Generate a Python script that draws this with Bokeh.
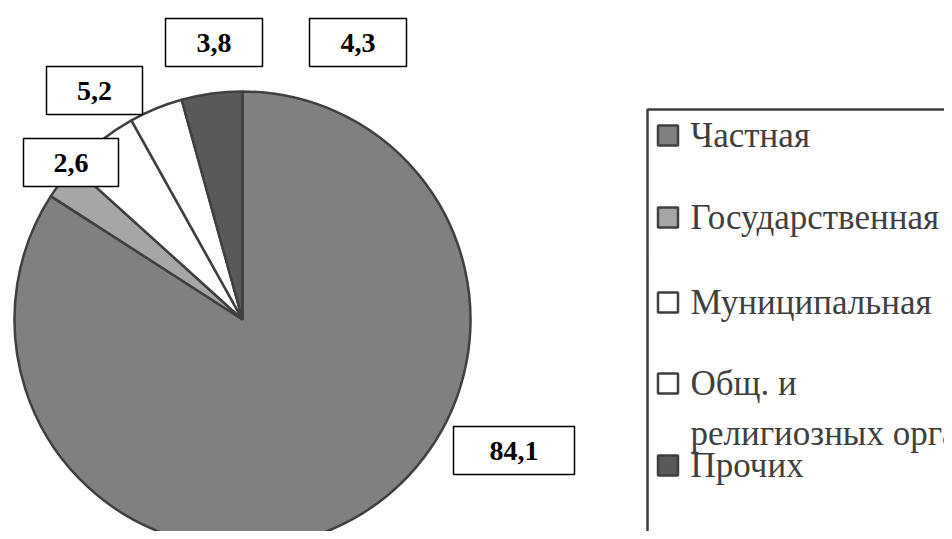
import math
from bokeh.plotting import figure
from bokeh.models import Range1d, ColumnDataSource
from bokeh.core.properties import value
from bokeh.embed import file_html
from bokeh.resources import INLINE

# ---- data ----
categories = ["Частная", "Государственная", "Муниципальная",
              "Общ. и религиозных организаций", "Прочих"]
shares = [84.1, 2.6, 5.2, 3.8, 4.3]
legend_lines = [["Частная"], ["Государственная"], ["Муниципальная"],
                ["Общ. и", "религиозных организаций"], ["Прочих"]]
slice_colors = ["#808080", "#a6a6a6", "#ffffff", "#ffffff", "#595959"]

# ---- layout (screen pixel positions, y downward) ----
W, H = 944, 531
def sx(x):
    return x
def sy(y):
    return H - y

pie_cx, pie_cy, pie_r = 242, 319, 228
# manually placed data-label boxes: (center x, center y, box width)
label_boxes = [(513.5, 450, 121), (70.5, 162, 95), (94, 90, 96),
               (213.5, 42, 97), (357.5, 42, 97)]
box_h = 48
legend_left, legend_top = 647, 109
legend_rows = [135, 217, 302, 383, 465]
legend_line_gap = 50
outline = "#404040"

p = figure(width=W, height=H, output_backend="svg", toolbar_location=None,
           x_range=Range1d(0, W), y_range=Range1d(0, H),
           min_border=0, border_fill_color="white", background_fill_color="white")
p.axis.visible = False
p.grid.visible = False
p.outline_line_color = None

# ---- pie (clockwise from 12 o'clock) ----
total = sum(shares)
starts, ends = [], []
cum = 0.0
for s in shares:
    starts.append(math.pi / 2 - 2 * math.pi * cum / total)
    cum += s
    ends.append(math.pi / 2 - 2 * math.pi * cum / total)

pie_src = ColumnDataSource(dict(start=starts, end=ends, color=slice_colors, cat=categories))
p.wedge(x=sx(pie_cx), y=sy(pie_cy), radius=pie_r, start_angle="start", end_angle="end",
        direction="clock", fill_color="color", line_color=outline, line_width=2.5,
        source=pie_src)

# ---- data labels ----
labels = [f"{v:.1f}".replace(".", ",") for v in shares]
lab_src = ColumnDataSource(dict(
    x=[sx(b[0]) for b in label_boxes],
    y=[sy(b[1]) for b in label_boxes],
    w=[b[2] for b in label_boxes],
    txt=labels))
p.rect(x="x", y="y", width="w", height=box_h, fill_color="white",
       line_color="black", line_width=1.5, source=lab_src)
p.text(x="x", y="y", text="txt", text_align="center", text_baseline="middle",
       text_font=value("Liberation Serif"), text_font_style="bold",
       text_font_size="28px", text_color="black", source=lab_src)

# ---- legend ----
p.quad(left=sx(legend_left), right=sx(1100), top=sy(legend_top), bottom=sy(700),
       fill_color=None, line_color=outline, line_width=2.5)
p.rect(x=[sx(667.5)] * len(categories), y=[sy(r) for r in legend_rows],
       width=20, height=20, fill_color=slice_colors, line_color=outline, line_width=2.5)
tx, ty, tt = [], [], []
for row, lines in zip(legend_rows, legend_lines):
    for k, line in enumerate(lines):
        tx.append(sx(690))
        ty.append(sy(row + k * legend_line_gap))
        tt.append(line)
p.text(x=tx, y=ty, text=tt, text_align="left", text_baseline="middle",
       text_font=value("Liberation Serif"), text_font_size="35px",
       text_color="#404040")

open("out.html", "w").write(file_html(p, INLINE))
